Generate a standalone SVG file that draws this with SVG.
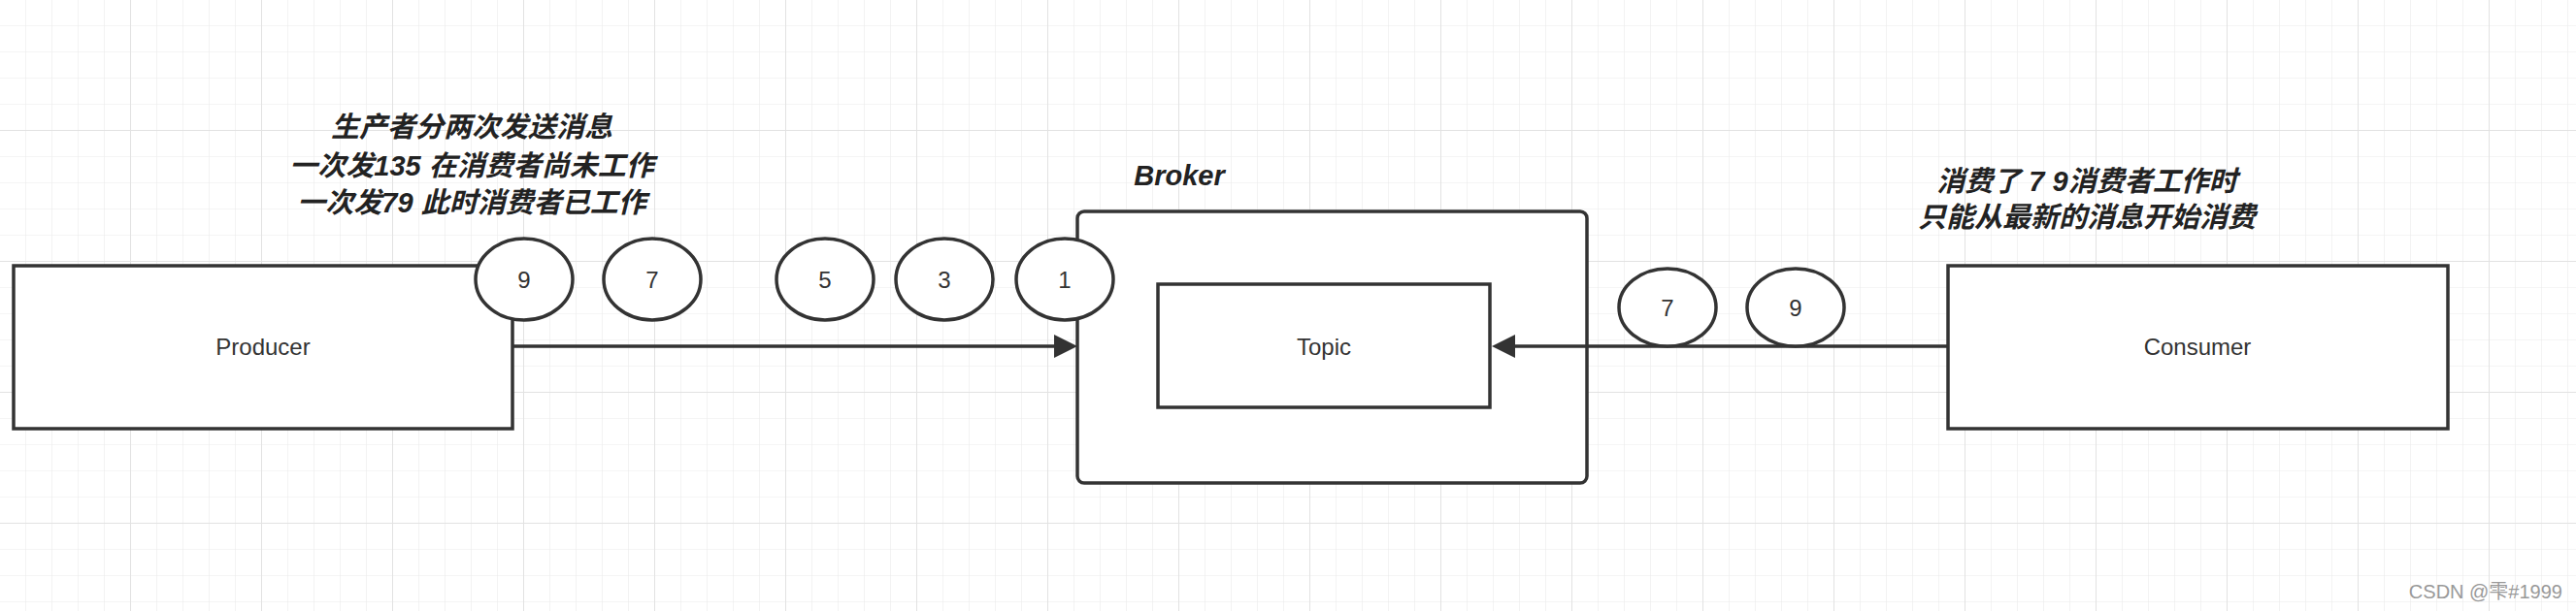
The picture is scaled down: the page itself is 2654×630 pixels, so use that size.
<svg xmlns="http://www.w3.org/2000/svg" width="2654" height="630" viewBox="0 0 2654 630">
<defs>
<pattern id="g" width="27" height="27" patternUnits="userSpaceOnUse"><path d="M27 0V27M0 27H27" fill="none" stroke="#ececec" stroke-width="1.2"/></pattern>
<pattern id="G" width="135" height="135" patternUnits="userSpaceOnUse"><path d="M135 0V135M0 135H135" fill="none" stroke="#e2e2e2" stroke-width="2"/></pattern>
<style>
.b{fill:#fff;stroke:#333;stroke-width:3.5}
.t{font-family:"Liberation Sans",Arial,sans-serif;font-size:24px;fill:#333;text-anchor:middle}
.n{font-family:"Liberation Sans",Arial,sans-serif;font-size:24px;fill:#333;text-anchor:middle}
.l{font-family:"Liberation Sans","Noto Sans CJK SC",sans-serif;font-size:29px;font-weight:bold;font-style:italic;fill:#222;text-anchor:middle}
.c{stroke:#333;stroke-width:3.5;fill:none}
.h{fill:#333}
</style>
</defs>
<rect width="2654" height="630" fill="#fff"/>
<rect width="2654" height="630" fill="url(#g)"/>
<rect width="2654" height="630" fill="url(#G)"/>
<g id="broker"><rect class="b" x="1110" y="218" width="525" height="280" rx="7"/><text class="l" x="1215" y="191">Broker</text></g>
<g id="topic"><rect class="b" x="1193" y="293" width="342" height="127"/><text class="t" x="1364" y="366">Topic</text></g>
<g id="connectors">
<path class="c" d="M528 357H1088"/>
<path class="h" d="M1110 357l-24 -12v24z"/>
<path class="c" d="M2007 357H1555"/>
<path class="h" d="M1537 357l24 -12v24z"/>
</g>
<g id="producer"><rect class="b" x="14" y="274" width="514" height="168"/><text class="t" x="271" y="366">Producer</text></g>
<g id="consumer"><rect class="b" x="2007" y="274" width="515" height="168"/><text class="t" x="2264" y="366">Consumer</text></g>
<g id="m9"><ellipse class="b" cx="540" cy="288" rx="50" ry="42"/><text class="n" x="540" y="297">9</text></g>
<g id="m7"><ellipse class="b" cx="672" cy="288" rx="50" ry="42"/><text class="n" x="672" y="297">7</text></g>
<g id="m5"><ellipse class="b" cx="850" cy="288" rx="50" ry="42"/><text class="n" x="850" y="297">5</text></g>
<g id="m3"><ellipse class="b" cx="973" cy="288" rx="50" ry="42"/><text class="n" x="973" y="297">3</text></g>
<g id="m1"><ellipse class="b" cx="1097" cy="288" rx="50" ry="42"/><text class="n" x="1097" y="297">1</text></g>
<g id="c7"><ellipse class="b" cx="1718" cy="317" rx="50" ry="40"/><text class="n" x="1718" y="326">7</text></g>
<g id="c9"><ellipse class="b" cx="1850" cy="317" rx="50" ry="40"/><text class="n" x="1850" y="326">9</text></g>
<g id="note-left"><text class="l" x="486" y="141">生产者分两次发送消息</text><text class="l" x="486" y="181">一次发135 在消费者尚未工作</text><text class="l" x="486" y="219">一次发79 此时消费者已工作</text></g>
<g id="note-right"><text class="l" x="2150" y="197">消费了 7 9消费者工作时</text><text class="l" x="2150" y="234">只能从最新的消息开始消费</text></g>
<text x="2640" y="617" text-anchor="end" font-family="'Liberation Sans','Noto Sans CJK SC',sans-serif" font-size="20" fill="#999">CSDN @雫#1999</text>
</svg>
